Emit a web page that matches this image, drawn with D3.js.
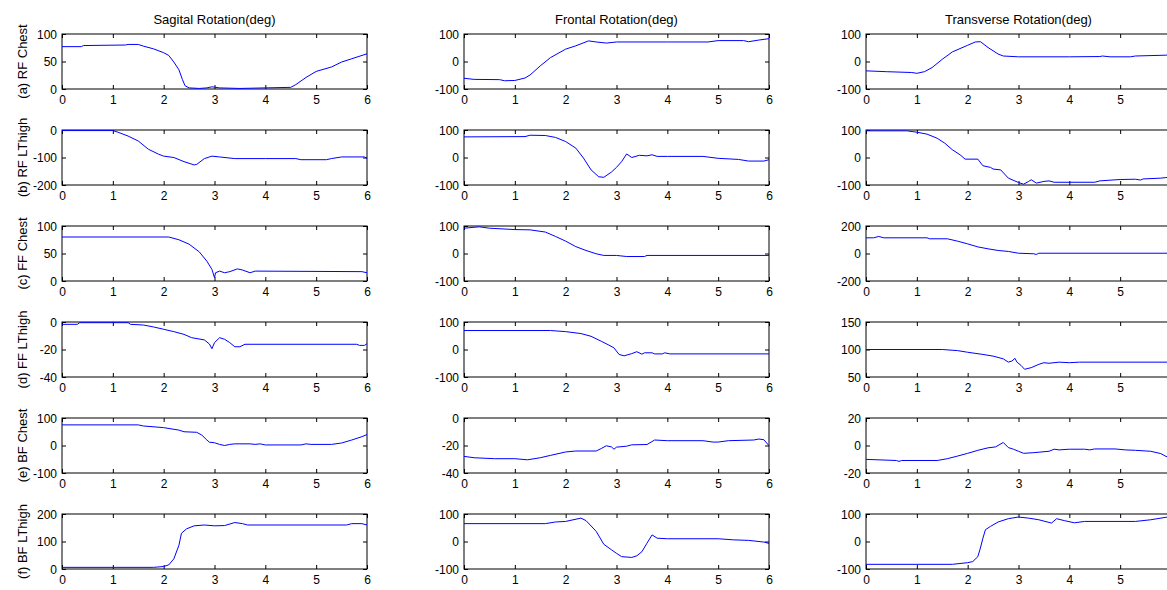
<!DOCTYPE html>
<html>
<head>
<meta charset="utf-8">
<script src="https://cdn.jsdelivr.net/npm/d3@7"></script>
<style>
  html, body { margin: 0; padding: 0; background: #fff; }
  svg { display: block; font-family: "Liberation Sans", Arial, sans-serif; }
</style>
</head>
<body>
<svg id="chart" width="1167" height="590"></svg>
<script>
// Column titles and row labels
const colTitles = ["Sagital Rotation(deg)", "Frontal Rotation(deg)", "Transverse Rotation(deg)"];
const rowLabels = ["(a) RF Chest", "(b) RF LThigh", "(c) FF Chest", "(d) FF LThigh", "(e) BF Chest", "(f) BF LThigh"];
const xTicks = [0, 1, 2, 3, 4, 5, 6];

// y-axis ranges per panel [row][col]
const yDomains = [
  [[0, 100], [-100, 100], [-100, 100]],
  [[-200, 0], [-100, 100], [-100, 100]],
  [[0, 100], [-100, 100], [-200, 200]],
  [[-40, 0], [-100, 100], [50, 150]],
  [[-100, 100], [-40, 0], [-20, 20]],
  [[0, 200], [-100, 100], [-100, 100]]
];

// Rotation traces, [time (s), angle (deg)]
const sagRFChest = [[0,77],[0.38,77],[0.42,79],[1.25,80],[1.3,81],[1.5,81],[1.6,78],[1.8,73],[2.0,66],[2.1,61],[2.2,49],[2.3,35],[2.37,17],[2.42,6],[2.5,2],[2.7,1],[2.85,2],[2.95,4],[3.1,2],[3.5,1],[4.0,2],[4.5,3],[4.6,8],[4.8,21],[5.0,32],[5.3,40],[5.5,49],[5.7,55],[6.0,64]];
const froRFChest = [[0,-61],[0.2,-65],[0.7,-66],[0.8,-70],[1.0,-69],[1.2,-60],[1.3,-49],[1.5,-16],[1.7,14],[2.0,45],[2.2,57],[2.45,75],[2.6,71],[2.8,67],[3.0,71],[4.0,71],[4.8,71],[5.0,76],[5.5,76],[5.6,72],[5.8,78],[6.0,83]];
const traRFChest = [[0,-34],[0.4,-37],[0.9,-40],[1.0,-43],[1.15,-37],[1.3,-22],[1.5,8],[1.7,35],[2.0,59],[2.15,71],[2.25,72],[2.4,51],[2.6,27],[2.7,20],[3.0,17],[4.0,17],[4.6,18],[4.65,20],[4.8,17],[5.2,17],[5.3,20],[5.9,23],[6.0,25]];

const sagRFThigh = [[0,-2],[1.0,-2],[1.1,-8],[1.3,-22],[1.5,-40],[1.7,-70],[1.9,-88],[2.0,-95],[2.2,-100],[2.4,-115],[2.6,-127],[2.65,-125],[2.8,-104],[2.95,-95],[3.1,-98],[3.4,-104],[4.0,-104],[4.6,-104],[4.7,-108],[5.2,-108],[5.3,-104],[5.5,-98],[5.95,-98],[6.0,-103]];
const froRFThigh = [[0,75],[1.2,76],[1.3,81],[1.6,80],[1.8,73],[2.0,58],[2.2,34],[2.35,-2],[2.5,-45],[2.65,-70],[2.75,-72],[2.9,-53],[3.0,-36],[3.1,-15],[3.2,13],[3.3,0],[3.45,8],[3.6,6],[3.7,10],[3.8,4],[4.0,4],[4.7,4],[5.0,-3],[5.4,-7],[5.6,-13],[5.9,-13],[6.0,-8]];
const traRFThigh = [[0,97],[0.8,97],[1.0,92],[1.2,85],[1.4,70],[1.55,52],[1.7,28],[1.85,10],[1.95,-6],[2.2,-6],[2.3,-30],[2.45,-36],[2.5,-42],[2.65,-45],[2.8,-75],[3.0,-91],[3.1,-97],[3.2,-87],[3.25,-81],[3.35,-93],[3.5,-87],[3.6,-85],[3.7,-90],[4.5,-90],[4.6,-85],[5.0,-80],[5.3,-79],[5.4,-82],[5.45,-78],[5.8,-75],[5.9,-73],[6.0,-72]];

const sagFFChest = [[0,80],[2.1,80],[2.3,75],[2.5,67],[2.7,53],[2.85,36],[2.95,21],[3.0,6],[3.02,15],[3.1,18],[3.2,15],[3.3,17],[3.45,22],[3.55,20],[3.7,15],[3.8,18],[5.9,17],[6.0,15]];
const froFFChest = [[0,92],[0.3,97],[0.5,92],[1.0,87],[1.3,86],[1.6,78],[1.8,62],[2.0,45],[2.2,25],[2.4,11],[2.6,-1],[2.75,-7],[3.0,-7],[3.2,-11],[3.55,-11],[3.6,-7],[6.0,-7]];
const traFFChest = [[0,114],[0.15,114],[0.25,124],[0.35,114],[1.2,114],[1.25,107],[1.6,107],[1.8,90],[2.0,70],[2.2,48],[2.4,34],[2.6,22],[2.8,15],[3.0,2],[3.3,-2],[3.35,-7],[3.4,2],[6.0,2]];

const sagFFThigh = [[0,-1.7],[0.3,-1.7],[0.35,-0.5],[1.3,-0.5],[1.35,-1.7],[1.6,-2.2],[1.8,-3.6],[2.0,-5.3],[2.2,-7],[2.4,-9],[2.55,-11.4],[2.8,-13],[2.9,-16],[2.95,-19.4],[3.0,-15],[3.1,-11.4],[3.2,-12.6],[3.3,-15],[3.4,-18],[3.5,-18],[3.6,-16.2],[5.8,-16.2],[5.85,-17],[5.95,-17],[6.0,-15.8]];
const froFFThigh = [[0,69],[1.7,69],[2.0,65],[2.3,58],[2.5,48],[2.7,30],[2.85,16],[2.95,6],[3.05,-18],[3.15,-23],[3.3,-15],[3.4,-8],[3.5,-17],[3.55,-12],[3.7,-12],[3.75,-16],[3.9,-16],[3.95,-12],[4.05,-16],[6.0,-16]];
const traFFThigh = [[0,100],[1.5,100],[1.8,98],[2.0,95],[2.3,91],[2.5,88],[2.7,83],[2.8,77],[2.87,79],[2.93,84],[2.97,77],[3.05,71],[3.12,64],[3.25,67],[3.4,73],[3.5,76],[3.6,75],[3.8,77],[4.0,76],[4.2,77],[6.0,77]];

const sagBFChest = [[0,75],[1.5,75],[1.6,71],[2.0,65],[2.3,56],[2.4,50],[2.65,48],[2.75,38],[2.85,20],[2.9,12],[3.0,10],[3.1,4],[3.2,0],[3.3,4],[3.4,6],[3.7,6],[3.8,4],[3.9,6],[4.0,2],[4.7,2],[4.8,6],[4.9,4],[5.3,4],[5.5,9],[5.7,20],[5.9,32],[6.0,40]];
const froBFChest = [[0,-27.9],[0.2,-28.9],[0.6,-29.6],[1.0,-29.6],[1.25,-30.4],[1.5,-28.9],[1.7,-27.2],[2.0,-24.7],[2.2,-24],[2.6,-24],[2.7,-22.2],[2.8,-20.2],[2.9,-21],[2.95,-22.7],[3.0,-21.2],[3.2,-20.5],[3.3,-19.5],[3.6,-19.3],[3.75,-16],[4.0,-16.5],[4.7,-16.5],[4.9,-17.5],[5.0,-17.5],[5.2,-16.5],[5.7,-16],[5.8,-15.3],[5.9,-15.8],[6.0,-20.2]];
const traBFChest = [[0,-10.1],[0.6,-10.9],[0.65,-11.6],[0.7,-10.9],[1.4,-10.9],[1.6,-9.6],[1.8,-7.7],[2.0,-5.7],[2.2,-3.5],[2.4,-1.7],[2.55,-1],[2.7,2.2],[2.8,-1.5],[2.9,-2.7],[3.0,-4.2],[3.1,-5.7],[3.3,-5.2],[3.6,-4.2],[3.7,-2.7],[3.8,-3.2],[4.0,-2.7],[4.3,-2.7],[4.4,-3.2],[4.5,-2.5],[4.9,-2.5],[5.1,-3.2],[5.3,-3.5],[5.6,-4.2],[5.8,-5.9],[5.9,-7.9],[6.0,-9]];

const sagBFThigh = [[0,6],[1.8,6],[2.0,9],[2.1,15],[2.2,37],[2.3,86],[2.35,130],[2.45,146],[2.6,157],[2.8,160],[3.0,157],[3.2,158],[3.4,169],[3.55,165],[3.65,160],[5.6,160],[5.7,165],[5.9,165],[6.0,160]];
const froBFThigh = [[0,65],[1.6,65],[1.8,71],[2.0,73],[2.3,85],[2.4,76],[2.6,37],[2.75,-10],[2.9,-30],[3.0,-43],[3.1,-55],[3.3,-58],[3.4,-52],[3.5,-37],[3.6,-6],[3.7,24],[3.8,12],[4.0,10],[5.0,10],[5.3,6],[5.6,4],[5.9,-2],[6.0,-7]];
const traBFThigh = [[0,-83],[1.7,-83],[2.0,-77],[2.1,-73],[2.2,-55],[2.25,-24],[2.3,12],[2.35,43],[2.45,55],[2.6,71],[2.8,83],[3.0,89],[3.2,85],[3.4,79],[3.65,67],[3.75,83],[3.9,76],[4.1,68],[4.3,73],[5.3,73],[5.6,79],[5.9,88],[6.0,90]];

const series = [
  [sagRFChest, froRFChest, traRFChest],
  [sagRFThigh, froRFThigh, traRFThigh],
  [sagFFChest, froFFChest, traFFChest],
  [sagFFThigh, froFFThigh, traFFThigh],
  [sagBFChest, froBFChest, traBFChest],
  [sagBFThigh, froBFThigh, traBFThigh]
];

// Layout of the 6x3 grid of axes
const W = 1167;
const svg = d3.select("#chart");
const colLeft = [62, 464, 866];
const panelW = 305, panelH = 55;
const rowTop = i => 34 + i * 96;
const tick = 4;
const fmt = d => String(d);   // plain hyphen-minus in tick labels

colTitles.forEach((t, c) => {
  svg.append("text")
    .attr("x", colLeft[c] + panelW / 2)
    .attr("y", 24)
    .attr("text-anchor", "middle")
    .attr("font-size", 13)
    .attr("fill", "#000")
    .text(t);
});

series.forEach((row, r) => {
  row.forEach((data, c) => {
    const x0 = colLeft[c], y0 = rowTop(r);
    const x = d3.scaleLinear().domain([0, 6]).range([0, panelW]);
    const dom = yDomains[r][c];
    const y = d3.scaleLinear().domain(dom).range([panelH, 0]);
    const yTicks = [dom[0], (dom[0] + dom[1]) / 2, dom[1]];
    // only label x ticks that land inside the page
    const shownX = xTicks.filter(t => x0 + x(t) + 4 <= W);
    const g = svg.append("g").attr("transform", `translate(${x0},${y0})`);

    // bottom axis with labels, inward ticks
    const gx = g.append("g").attr("transform", `translate(0,${panelH})`)
      .call(d3.axisBottom(x).tickValues(shownX).tickSizeInner(-tick).tickSizeOuter(0).tickPadding(6).tickFormat(fmt));
    // top mirror ticks
    const gxt = g.append("g")
      .call(d3.axisTop(x).tickValues(shownX).tickSizeInner(-tick).tickSizeOuter(0).tickFormat(""));
    // left axis with labels
    const gy = g.append("g")
      .call(d3.axisLeft(y).tickValues(yTicks).tickSizeInner(-tick).tickSizeOuter(0).tickPadding(5).tickFormat(fmt));
    // right mirror ticks
    const gyr = g.append("g").attr("transform", `translate(${panelW},0)`)
      .call(d3.axisRight(y).tickValues(yTicks).tickSizeInner(-tick).tickSizeOuter(0).tickFormat(""));

    [gx, gxt, gy, gyr].forEach(a => {
      a.select(".domain").remove();
      a.selectAll("line").attr("stroke", "#000");
      a.selectAll("text").attr("font-size", 12).attr("fill", "#000")
        .attr("font-family", "\"Liberation Sans\", Arial, sans-serif");
    });
    gxt.selectAll("text").remove();
    gyr.selectAll("text").remove();
    gy.selectAll("text").attr("dy", "0.36em");

    // axes box
    g.append("rect")
      .attr("x", 0).attr("y", 0).attr("width", panelW).attr("height", panelH)
      .attr("fill", "none").attr("stroke", "#000").attr("stroke-width", 1);

    // trace
    g.append("path")
      .datum(data)
      .attr("fill", "none")
      .attr("stroke", "#0000ff")
      .attr("stroke-width", 1)
      .attr("d", d3.line().x(d => x(d[0])).y(d => y(d[1])));

    if (c === 0) {
      svg.append("text")
        .attr("transform", `translate(${x0 - 35},${y0 + panelH / 2}) rotate(-90)`)
        .attr("text-anchor", "middle")
        .attr("font-size", 13)
        .attr("fill", "#000")
        .text(rowLabels[r]);
    }
  });
});
</script>
</body>
</html>
